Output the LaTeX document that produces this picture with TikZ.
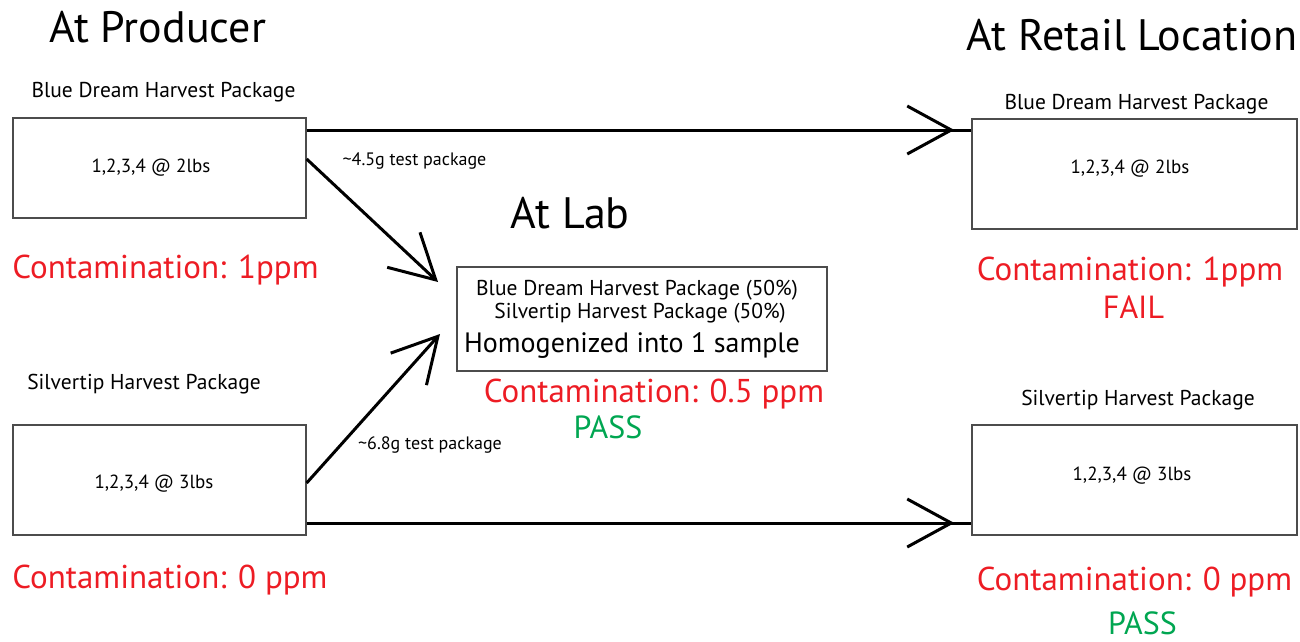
\documentclass[tikz,border=0pt]{standalone}
\usepackage{fontspec}
\setmainfont{PT Sans}
\usetikzlibrary{arrows.meta,decorations.markings}
\definecolor{cred}{RGB}{237,28,36}
\definecolor{cgreen}{RGB}{0,166,81}
\tikzset{
  box/.style={draw=black!70, line width=1.3pt, rectangle, inner sep=0pt, fill=white},
  txt/.style={anchor=base, inner sep=0pt},
  title/.style={txt, font=\fontsize{44}{50}\selectfont},
  lbl/.style={txt, font=\fontsize{21.5}{25}\selectfont},
  inbox/.style={txt, font=\fontsize{19}{22}\selectfont},
  labline/.style={txt, font=\fontsize{21.5}{25}\selectfont},
  labbig/.style={txt, font=\fontsize{28}{32}\selectfont},
  cont/.style={txt, font=\fontsize{33}{38}\selectfont, text=cred},
  verdictpass/.style={txt, font=\fontsize{32}{36}\selectfont, text=cgreen},
  verdictfail/.style={txt, font=\fontsize{32}{36}\selectfont, text=cred},
  small/.style={txt, font=\fontsize{18}{21}\selectfont},
  conn/.style={line width=3pt, black},
  barb/.tip={Straight Barb[length=44pt,width=48pt]},
  midtip/.style={postaction={decorate}, decoration={markings, mark=at position -17pt with {\arrow{barb}}}}
}
\begin{document}
\begin{tikzpicture}[x=1pt,y=-1pt]
\useasboundingbox (0,0) rectangle (1300,641);
% boxes
\node[box, minimum width=293pt, minimum height=100pt] (pA) at (159.5,168) {};
\node[box, minimum width=293pt, minimum height=110pt] (pB) at (159.5,480) {};
\node[box, minimum width=370pt, minimum height=104pt] (lab) at (642,319) {};
\node[box, minimum width=325pt, minimum height=110pt] (rA) at (1134.5,174) {};
\node[box, minimum width=325pt, minimum height=110pt] (rB) at (1134.5,480) {};
% box contents
\node[inbox] (pAt) at (151,172) {1,2,3,4 @ 2lbs};
\node[inbox] (pBt) at (154,488) {1,2,3,4 @ 3lbs};
\node[inbox] (rAt) at (1130,173) {1,2,3,4 @ 2lbs};
\node[inbox] (rBt) at (1132,480) {1,2,3,4 @ 3lbs};
\node[labline] (lab1) at (637,295) {Blue Dream Harvest Package (50\%)};
\node[labline] (lab2) at (640,318) {Silvertip Harvest Package (50\%)};
\node[labbig] (lab3) at (632,352) {Homogenized into 1 sample};
% titles
\node[title] (tP) at (157.5,42) {At Producer};
\node[title] (tL) at (570,228) {At Lab};
\node[title] (tR) at (1132,50) {At Retail Location};
% labels
\node[lbl] (lA) at (163.5,97) {Blue Dream Harvest Package};
\node[lbl] (lB) at (144,389) {Silvertip Harvest Package};
\node[lbl] (lrA) at (1136.5,109) {Blue Dream Harvest Package};
\node[lbl] (lrB) at (1138,405) {Silvertip Harvest Package};
\node[cont] (cA) at (165.5,278) {Contamination: 1ppm};
\node[cont] (cB) at (170,588) {Contamination: 0 ppm};
\node[cont] (cL) at (654,402) {Contamination: 0.5 ppm};
\node[verdictpass] (vL) at (608,438) {PASS};
\node[cont] (crA) at (1130,280) {Contamination: 1ppm};
\node[verdictfail] (vrA) at (1133.5,318) {FAIL};
\node[cont] (crB) at (1134.5,590) {Contamination: 0 ppm};
\node[verdictpass] (vrB) at (1142.5,634) {PASS};
\node[small] (sA) at (414.5,165) {\textasciitilde4.5g test package};
\node[small] (sB) at (430,449) {\textasciitilde6.8g test package};
% connectors
\coordinate (h1) at ([yshift=38pt]pA.east);
\coordinate (h2) at ([yshift=-43pt]pB.east);
\draw[conn, midtip] (h1) -- (h1 -| rA.west);
\draw[conn, midtip] (h2) -- (h2 -| rB.west);
\coordinate (d1) at (438,282);
\coordinate (d2) at (440,334);
\draw[conn, -{barb}] ([yshift=9pt]pA.east) -- (d1);
\draw[conn, -{barb}] ([yshift=-3pt]pB.east) -- (d2);
\end{tikzpicture}
\end{document}
